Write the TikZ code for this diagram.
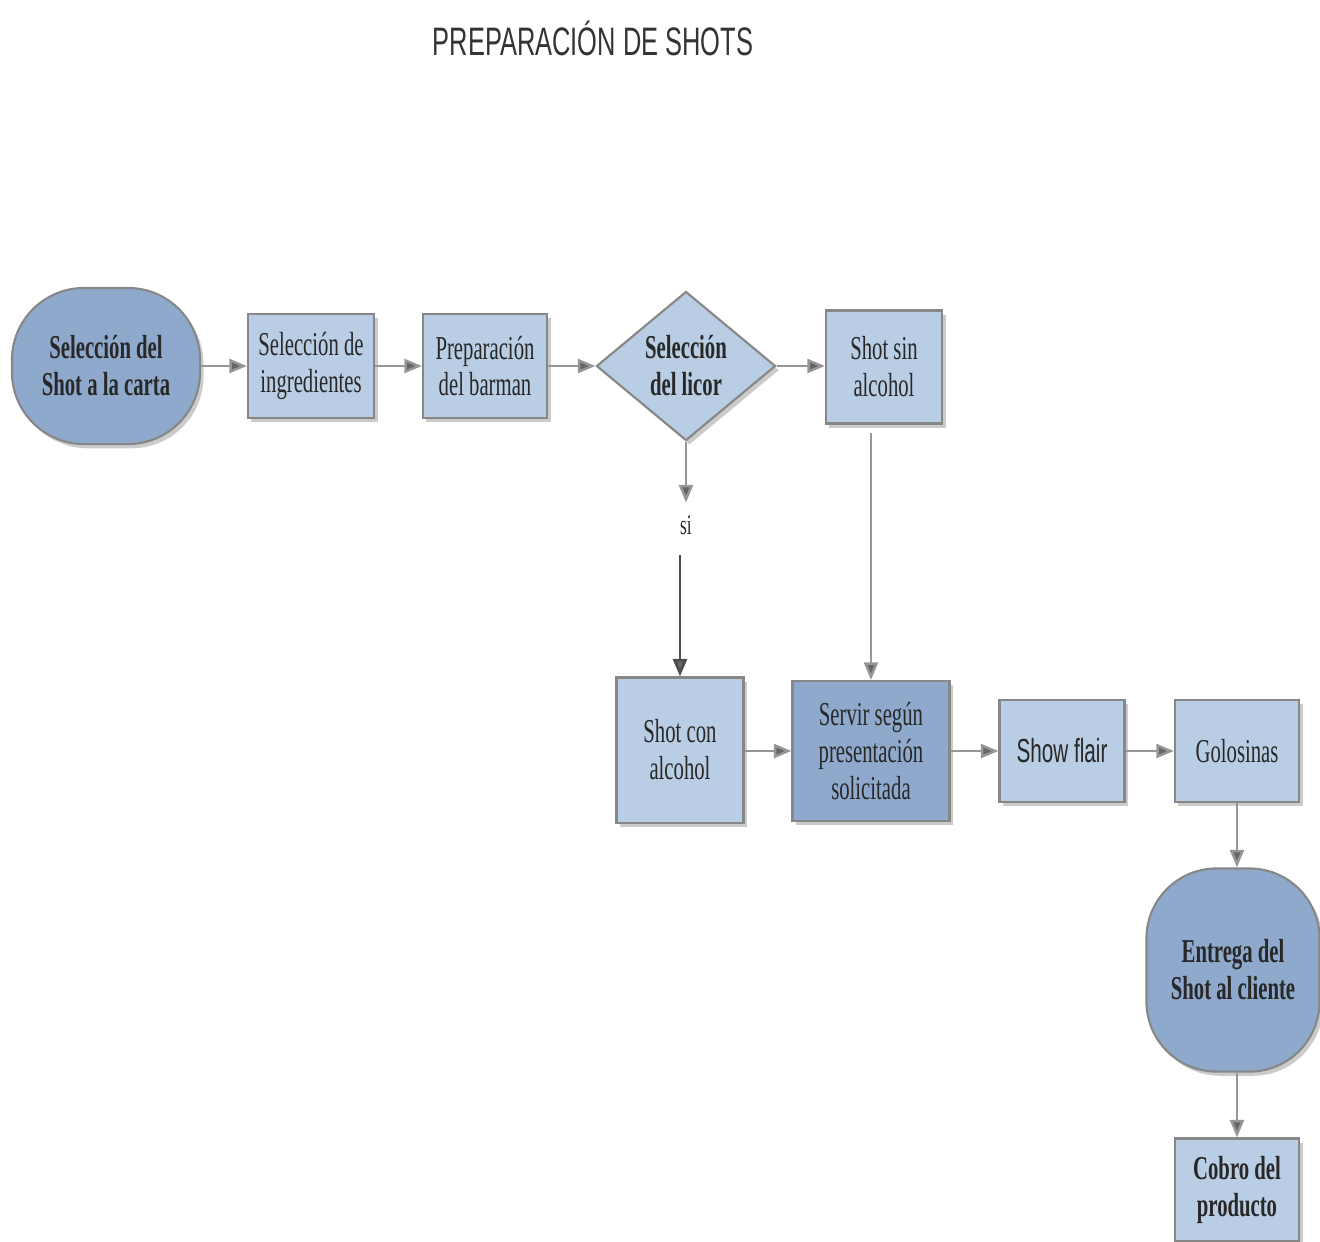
\documentclass[tikz,border=0pt]{standalone}
\usepackage{fontspec}
\setmainfont[FakeStretch=0.62]{Liberation Serif}
\newfontfamily\titlefont[FakeStretch=0.64]{Liberation Sans}
\newfontfamily\sansnarrow[FakeStretch=0.62]{Liberation Sans}
\usetikzlibrary{shapes.geometric,arrows.meta,shadows}
\definecolor{boxlight}{RGB}{185,205,228}
\definecolor{boxdark}{RGB}{142,169,204}
\definecolor{edgegray}{RGB}{135,135,135}
\definecolor{linegray}{RGB}{150,150,150}
\definecolor{textdark}{RGB}{40,40,40}
\begin{document}
\begin{tikzpicture}[x=0.01cm,y=-0.01cm,
  base/.style={draw=edgegray,line width=0.6pt,align=center,text=textdark,
    font=\fontsize{9.5}{10.5}\selectfont,inner sep=2pt,
    drop shadow={shadow xshift=1pt,shadow yshift=-1.2pt,fill=black!45,opacity=0.45}},
  lightbox/.style={base,fill=boxlight,rectangle},
  darkbox/.style={base,fill=boxdark,rectangle},
  terminal/.style={base,fill=boxdark,rectangle,rounded corners=0.72cm,
    font=\fontsize{9.5}{10.5}\selectfont\bfseries},
  decision/.style={base,fill=boxlight,diamond,inner sep=0pt,
    font=\fontsize{9.5}{10.5}\selectfont\bfseries},
  flow/.style={draw=linegray,line width=0.7pt,-{Triangle[length=5pt,width=4pt,fill=black!60]}},
  flowdark/.style={draw=black!70,line width=0.8pt,-{Triangle[length=5pt,width=4pt,fill=black!60]}}]
\useasboundingbox (0,0) rectangle (1320,1241);
\node[font=\titlefont\fontsize{11.3}{12}\selectfont,text=black!80] (title) at (593,38) {PREPARACIÓN DE SHOTS};

\node[terminal,minimum width=1.88cm,minimum height=1.56cm] (start) at (106,366) {Selección del\\Shot a la carta};
\node[lightbox,minimum width=1.26cm,minimum height=1.04cm] (ingr) at (311,366) {Selección de\\ingredientes};
\node[lightbox,minimum width=1.24cm,minimum height=1.04cm] (prep) at (485,366) {Preparación\\del barman};
\node[decision,minimum width=1.79cm,minimum height=1.49cm] (dec) at (686,366) {Selección\\del licor};
\node[lightbox,minimum width=1.16cm,minimum height=1.13cm] (sin) at (884,367) {Shot sin\\alcohol};
\node[lightbox,minimum width=1.27cm,minimum height=1.45cm] (con) at (680,750) {Shot con\\alcohol};
\node[darkbox,minimum width=1.57cm,minimum height=1.40cm] (servir) at (871,751) {Servir según\\presentación\\solicitada};
\node[lightbox,minimum width=1.25cm,minimum height=1.02cm,font=\sansnarrow\fontsize{9.5}{10.5}\selectfont] (flair) at (1062,751) {Show flair};
\node[lightbox,minimum width=1.24cm,minimum height=1.02cm] (golo) at (1237,751) {Golosinas};
\node[terminal,minimum width=1.73cm,minimum height=2.03cm,rounded corners=0.7cm] (entrega) at (1233,970) {Entrega del\\Shot al cliente};
\node[lightbox,minimum width=1.24cm,minimum height=1.03cm,font=\fontsize{9.5}{10.5}\selectfont\bfseries] (cobro) at (1237,1190) {Cobro del\\producto};

\node[font=\fontsize{8}{9}\selectfont,text=textdark,inner sep=1pt] (si) at (686,525) {si};
\coordinate (silow) at (680,555);

\draw[flow] (start) -- (ingr);
\draw[flow] (ingr) -- (prep);
\draw[flow] (prep) -- (dec);
\draw[flow] (dec) -- (sin.west |- dec.east);
\draw[flow] (dec.south) -- ([yshift=2.5pt]si.north);
\draw[flowdark] (silow) -- (con.north -| silow);
\draw[flow] ([yshift=-2.3pt]sin.south -| servir.north) -- (servir.north);
\draw[flow] (con.east |- servir.west) -- (servir.west);
\draw[flow] (servir) -- (flair);
\draw[flow] (flair) -- (golo);
\draw[flow] (golo.south) -- (golo.south |- entrega.north);
\draw[flow] (entrega.south -| cobro.north) -- (cobro.north);
\end{tikzpicture}
\end{document}
